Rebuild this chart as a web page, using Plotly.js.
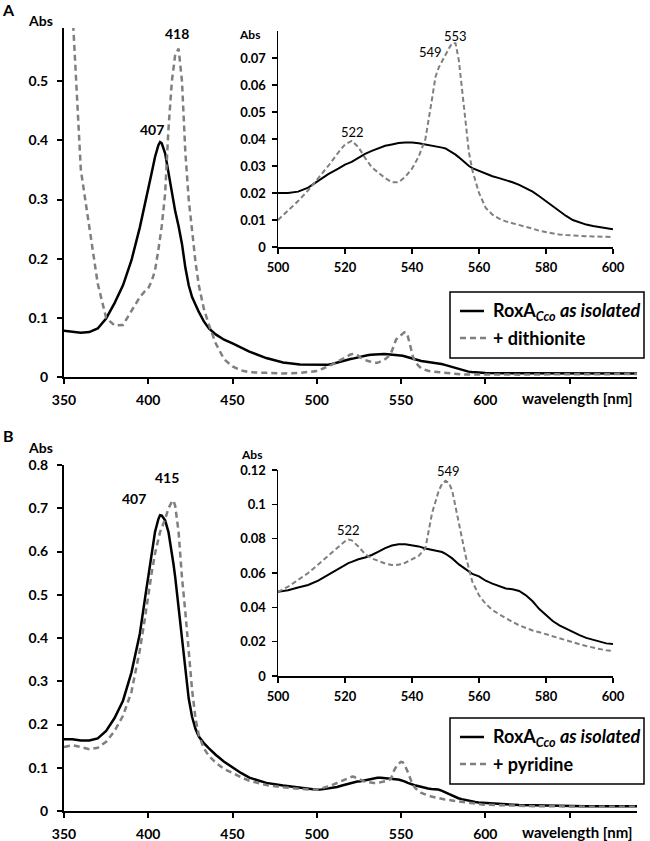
<!DOCTYPE html>
<html>
<head>
<meta charset="utf-8">
<script src="https://cdn.plot.ly/plotly-3.0.1.min.js"></script>
<style>html,body{margin:0;padding:0;background:#fff}#chart{width:650px;height:841px}</style>
</head>
<body>
<div id="chart"></div>
<script>
// ---------- Panel A data ----------
const wlA = [350,355,360,365,370,375,380,385,390,395,
  398,400,402,404,406,407,408,410,412,414,416,418,420,422,424,426,428,430,
  433,436,440,445,450,455,460,470,480,490,500,
  503,506,509,512,515,518,520,
  522,524,526,528,530,532,534,536,538,540,542,544,546,
  547,548,549,550,551,552,553,554,555,556,557,558,
  560,562,564,566,568,570,572,574,576,578,580,582,584,586,588,590,592,594,596,598,600,
  620,640,660,690];
const absA_isolated = [0.078,0.077,0.075,0.076,0.082,0.099,0.125,0.155,0.197,0.253,
  0.29,0.315,0.345,0.372,0.392,0.397,0.395,0.378,0.345,0.31,0.28,0.255,0.225,0.185,0.155,0.135,0.122,0.11,
  0.094,0.082,0.072,0.063,0.057,0.050,0.043,0.032,0.0245,0.021,0.020,
  0.020,0.0205,0.022,0.0245,0.027,0.029,0.0305,
  0.0315,0.033,0.0345,0.0356,0.0367,0.0375,0.038,0.0385,0.0387,0.0387,0.0384,0.038,0.0376,
  0.0374,0.0371,0.0368,0.0365,0.0358,0.035,0.0342,0.0332,0.0321,0.031,0.030,0.0292,
  0.0282,0.0272,0.0262,0.0255,0.0248,0.024,0.023,0.0218,0.0205,0.0188,0.017,0.015,0.0132,0.0115,0.010,0.0091,0.0083,0.0078,0.0074,0.007,0.0066,
  0.0062,0.006,0.006,0.006];
const absA_dithionite = [0.95,0.62,0.35,0.255,0.158,0.10,0.087,0.088,0.112,0.135,
  0.145,0.15,0.162,0.18,0.215,0.235,0.255,0.31,0.42,0.50,0.545,0.555,0.50,0.38,0.30,0.248,0.195,0.155,
  0.115,0.088,0.057,0.030,0.018,0.011,0.008,0.007,0.006,0.007,0.010,
  0.0135,0.017,0.021,0.0255,0.030,0.035,0.038,
  0.0393,0.037,0.033,0.0295,0.0275,0.0255,0.024,0.024,0.026,0.029,0.0335,0.040,0.055,
  0.063,0.0665,0.069,0.071,0.0735,0.0755,0.0755,0.069,0.058,0.045,0.035,0.0285,
  0.020,0.0145,0.012,0.0105,0.0095,0.0088,0.0082,0.0076,0.0068,0.006,0.0055,0.005,0.0046,0.0044,0.0042,0.0041,0.004,0.0039,0.0038,0.0037,0.0037,
  0.004,0.0045,0.005,0.005];

// ---------- Panel B data ----------
const wlB = [350,355,360,365,370,375,380,385,390,395,
  398,400,402,404,406,407,408,410,412,414,415,416,418,420,422,424,426,428,430,
  433,436,440,445,450,455,460,470,480,490,500,
  503,506,509,512,515,518,520,
  521,522,524,526,528,530,532,534,536,538,540,542,544,546,
  548,549,550,551,552,554,556,558,
  560,562,564,566,568,570,572,574,576,578,580,582,584,586,588,590,592,594,596,598,600,
  610,620,630,640,650,660,670,680,690];
const absB_isolated = [0.166,0.166,0.163,0.163,0.168,0.185,0.215,0.255,0.32,0.41,
  0.49,0.54,0.60,0.645,0.675,0.684,0.683,0.672,0.645,0.598,0.57,0.54,0.47,0.395,0.32,0.26,0.218,0.19,0.172,
  0.157,0.145,0.13,0.114,0.10,0.088,0.077,0.065,0.059,0.054,0.049,
  0.050,0.0515,0.053,0.0555,0.059,0.0625,0.065,
  0.0658,0.0665,0.068,0.069,0.0705,0.0725,0.0745,0.076,0.0768,0.0768,0.0763,0.0755,0.0743,0.0735,
  0.0727,0.0722,0.0712,0.070,0.0685,0.065,0.062,0.0595,
  0.058,0.0555,0.0538,0.0522,0.051,0.0505,0.0495,0.047,0.0435,0.039,0.0355,0.032,0.0295,0.0275,0.0255,0.0238,0.0222,0.021,0.0198,0.019,0.0187,
  0.016,0.014,0.013,0.012,0.012,0.011,0.011,0.011,0.011];
const absB_pyridine = [0.148,0.152,0.148,0.143,0.146,0.16,0.185,0.22,0.275,0.372,
  0.445,0.50,0.55,0.595,0.63,0.645,0.655,0.675,0.70,0.715,0.718,0.705,0.645,0.54,0.46,0.36,0.28,0.215,0.175,
  0.145,0.127,0.112,0.097,0.088,0.078,0.070,0.060,0.055,0.051,0.049,
  0.052,0.056,0.060,0.065,0.070,0.0755,0.0785,
  0.0795,0.079,0.0755,0.071,0.0685,0.067,0.0655,0.0647,0.0648,0.066,0.068,0.070,0.0745,0.095,
  0.108,0.112,0.1137,0.1125,0.108,0.09,0.07,0.055,
  0.047,0.042,0.0385,0.036,0.0335,0.0315,0.0295,0.0278,0.0265,0.0255,0.0243,0.023,0.0218,0.0205,0.0195,0.0185,0.0175,0.0165,0.0157,0.015,0.0145,
  0.013,0.012,0.011,0.011,0.010,0.010,0.010,0.010,0.010];

// ---------- Tick labels & texts ----------
const mainXTicks = [350,400,450,500,550,600,650];
const mainXText = ['350','400','450','500','550','600',' '];
const insetXTicks = [500,520,540,560,580,600];
const mainYTicksA = [0,0.1,0.2,0.3,0.4,0.5];
const mainYTextA = ['0','0.1','0.2','0.3','0.4','0.5'];
const insetYTicksA = [0,0.01,0.02,0.03,0.04,0.05,0.06,0.07];
const insetYTextA = ['0','0.01','0.02','0.03','0.04','0.05','0.06','0.07'];
const mainYTicksB = [0,0.1,0.2,0.3,0.4,0.5,0.6,0.7,0.8];
const mainYTextB = ['0','0.1','0.2','0.3','0.4','0.5','0.6','0.7','0.8'];
const insetYTicksB = [0,0.02,0.04,0.06,0.08,0.1,0.12];
const insetYTextB = ['0','0.02','0.04','0.06','0.08','0.1','0.12'];
const peakLabelsA = [{t:'418',x:417,y:0.58},{t:'407',x:402.2,y:0.418}];
const peakLabelsAin = [{t:'553',x:553,y:0.0781},{t:'549',x:545.5,y:0.0722},{t:'522',x:522.2,y:0.0426}];
const peakLabelsB = [{t:'415',x:411.1,y:0.771},{t:'407',x:391.5,y:0.723}];
const peakLabelsBin = [{t:'549',x:550.9,y:0.1195},{t:'522',x:521,y:0.0851}];
const legendA = ['RoxA<sub><i>Cco</i></sub> <i>as isolated</i>','+ dithionite'];
const legendB = ['RoxA<sub><i>Cco</i></sub> <i>as isolated</i>','+ pyridine'];

const FONT = 'Lato, "Open Sans", sans-serif';
const W = 650, H = 841;
const px = X => X / W;
const py = Y => 1 - Y / H;

const solidMain = {color:'#000', width:2.5};
const dashMain = {color:'#7f7f7f', width:2.5, dash:'6px,4px'};
const solidIn = {color:'#000', width:2};
const dashIn = {color:'#7f7f7f', width:2, dash:'5px,3px'};

function inRange(wl, ys, lo, hi) {
  const x = [], y = [];
  wl.forEach((w, i) => { if (w >= lo && w <= hi) { x.push(w); y.push(ys[i]); } });
  return {x, y};
}

const ia1 = inRange(wlA, absA_isolated, 500, 600);
const ia2 = inRange(wlA, absA_dithionite, 500, 600);
const ib1 = inRange(wlB, absB_isolated, 500, 600);
const ib2 = inRange(wlB, absB_pyridine, 500, 600);

const traces = [
  {x: wlA, y: absA_isolated, xaxis:'x', yaxis:'y', mode:'lines', line: solidMain, name:'A isolated'},
  {x: wlA, y: absA_dithionite, xaxis:'x', yaxis:'y', mode:'lines', line: dashMain, name:'A dithionite'},
  {x: ia1.x, y: ia1.y, xaxis:'x2', yaxis:'y2', mode:'lines', line: solidIn, name:'A inset isolated'},
  {x: ia2.x, y: ia2.y, xaxis:'x2', yaxis:'y2', mode:'lines', line: dashIn, name:'A inset dithionite'},
  {x: wlB, y: absB_isolated, xaxis:'x3', yaxis:'y3', mode:'lines', line: solidMain, name:'B isolated'},
  {x: wlB, y: absB_pyridine, xaxis:'x3', yaxis:'y3', mode:'lines', line: dashMain, name:'B pyridine'},
  {x: ib1.x, y: ib1.y, xaxis:'x4', yaxis:'y4', mode:'lines', line: solidIn, name:'B inset isolated'},
  {x: ib2.x, y: ib2.y, xaxis:'x4', yaxis:'y4', mode:'lines', line: dashIn, name:'B inset pyridine'}
];

const mainTickFont = {family: FONT, size: 14, color:'#000', weight: 'bold'};
const inTickFont = {family: FONT, size: 13, color:'#000', weight: 'bold'};

function xMain(anchor, dom) {
  return {domain: dom, range:[350,690], anchor: anchor, tickvals: mainXTicks, ticktext: mainXText,
    ticks:'outside', ticklen:5, tickwidth:2, tickcolor:'#000', showline:true, linewidth:2, linecolor:'#000',
    showgrid:false, zeroline:false, tickfont: mainTickFont, ticklabelstandoff: 4, fixedrange:true};
}
function yMain(anchor, dom, rng, tv, tt) {
  return {domain: dom, range: rng, anchor: anchor, tickvals: tv, ticktext: tt,
    ticks:'outside', ticklen:5, tickwidth:2, tickcolor:'#000', showline:true, linewidth:2, linecolor:'#000',
    showgrid:false, zeroline:false, tickfont: mainTickFont, ticklabelstandoff: 6, fixedrange:true};
}
function xIn(anchor, dom) {
  return {domain: dom, range:[500,600], anchor: anchor, tickvals: insetXTicks,
    ticks:'outside', ticklen:5, tickwidth:1.5, tickcolor:'#000', showline:true, linewidth:1.5, linecolor:'#000',
    showgrid:false, zeroline:false, tickfont: inTickFont, ticklabelstandoff: 3, fixedrange:true};
}
function yIn(anchor, dom, rng, tv, tt) {
  return {domain: dom, range: rng, anchor: anchor, tickvals: tv, ticktext: tt,
    ticks:'outside', ticklen:5, tickwidth:1.5, tickcolor:'#000', showline:true, linewidth:1.5, linecolor:'#000',
    showgrid:false, zeroline:false, tickfont: inTickFont, ticklabelstandoff: 3, fixedrange:true};
}

const annotations = [];
function txt(text, X, Y, size, opts) {
  annotations.push(Object.assign({text: text, xref:'paper', yref:'paper', x: px(X), y: py(Y),
    xanchor:'center', yanchor:'middle', showarrow:false,
    font:{family: FONT, size: size, color:'#000', weight:'bold'}}, opts || {}));
}
function peak(list, xr, yr, size, weight) {
  list.forEach(p => annotations.push({text: p.t, xref: xr, yref: yr, x: p.x, y: p.y, showarrow:false,
    xanchor:'center', yanchor:'middle', font:{family: FONT, size: size, color:'#000', weight: weight}}));
}

// panel letters and axis captions
txt('A', 8, 10, 16);
txt('B', 8, 436, 16);
txt('Abs', 40, 21, 14);
txt('Abs', 40, 447, 14);
txt('Abs', 249, 34, 12);
txt('Abs', 252, 455, 12);
txt('wavelength [nm]', 577, 398, 15);
txt('wavelength [nm]', 577, 832, 15);
peak(peakLabelsA, 'x', 'y', 14, 'bold');
peak(peakLabelsAin, 'x2', 'y2', 13, 'normal');
peak(peakLabelsB, 'x3', 'y3', 14, 'bold');
peak(peakLabelsBin, 'x4', 'y4', 13, 'normal');

// legends (drawn boxes)
const shapes = [];
function legend(top, names) {
  const left = 450, right = 644, bottom = top + 66;
  shapes.push({type:'rect', xref:'paper', yref:'paper', x0: px(left), x1: px(right), y0: py(top), y1: py(bottom),
    line:{color:'#000', width:1.5}, fillcolor:'#fff', layer:'above'});
  const y1 = top + 19, y2 = top + 46;
  shapes.push({type:'line', xref:'paper', yref:'paper', x0: px(460), x1: px(484), y0: py(y1), y1: py(y1),
    line:{color:'#000', width:2.5}, layer:'above'});
  shapes.push({type:'line', xref:'paper', yref:'paper', x0: px(460), x1: px(486), y0: py(y2), y1: py(y2),
    line:{color:'#7f7f7f', width:2.5, dash:'6px,4px'}, layer:'above'});
  txt(names[0], 491, y1, 18, {xanchor:'left'});
  txt(names[1], 491, y2, 18, {xanchor:'left'});
}
legend(292, legendA);
legend(718, legendB);

const layout = {
  width: W, height: H, margin:{l:0, r:0, t:0, b:0}, paper_bgcolor:'#fff', plot_bgcolor:'rgba(0,0,0,0)',
  showlegend:false, font:{family: FONT, color:'#000'},
  xaxis: xMain('y', [px(64), px(637)]),
  yaxis: yMain('x', [py(377), py(28)], [0, 0.59], mainYTicksA, mainYTextA),
  xaxis2: xIn('y2', [px(278), px(613)]),
  yaxis2: yIn('x2', [py(247), py(31)], [0, 0.08], insetYTicksA, insetYTextA),
  xaxis3: xMain('y3', [px(64), px(637)]),
  yaxis3: yMain('x3', [py(811), py(465)], [0, 0.8], mainYTicksB, mainYTextB),
  xaxis4: xIn('y4', [px(278), px(613)]),
  yaxis4: yIn('x4', [py(676), py(470)], [0, 0.12], insetYTicksB, insetYTextB),
  annotations: annotations, shapes: shapes
};

Plotly.newPlot('chart', traces, layout, {staticPlot:true, displayModeBar:false});
</script>
</body>
</html>
